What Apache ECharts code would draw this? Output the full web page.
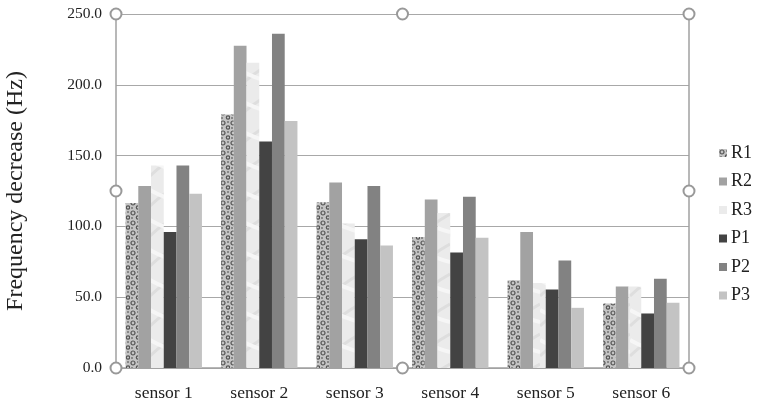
<!DOCTYPE html>
<html><head><meta charset="utf-8">
<script src="https://cdn.jsdelivr.net/npm/echarts@6/dist/echarts.min.js"></script>
<style>html,body{margin:0;padding:0;background:#fff}#c{width:759px;height:405px}</style>
</head><body><div id="c"></div>
<script>
const categories = ['sensor 1','sensor 2','sensor 3','sensor 4','sensor 5','sensor 6'];
const R1 = [116.5, 179, 117, 92.5, 62, 45.5];
const R2 = [128.5, 227.5, 131, 119, 96, 57.5];
const R3 = [143, 215.5, 102, 109.5, 60, 57.5];
const P1 = [96, 160, 91, 81.5, 55.5, 38.5];
const P2 = [143, 236, 128.5, 121, 76, 63];
const P3 = [123, 174.5, 86.5, 92, 42.5, 46];
const seriesNames = ['R1','R2','R3','P1','P2','P3'];
const yTicks = {min:0, max:250, interval:50};

function speckle(){
  const c=document.createElement('canvas'); c.width=10; c.height=10;
  const g=c.getContext('2d');
  g.fillStyle='#c4c4c4'; g.fillRect(0,0,10,10);
  g.strokeStyle='#555'; g.lineWidth=1.2;
  g.beginPath(); g.arc(3,3,2,0,Math.PI*2); g.stroke();
  g.beginPath(); g.arc(8,7.5,1.7,0,Math.PI*2); g.stroke();
  g.fillStyle='#888'; g.fillRect(7,1,2,2); g.fillRect(1,7,2,2);
  return c;
}
function marble(){
  const c=document.createElement('canvas'); c.width=30; c.height=30;
  const g=c.getContext('2d');
  g.fillStyle='#ebebeb'; g.fillRect(0,0,30,30);
  g.strokeStyle='#dedede'; g.lineWidth=3;
  g.beginPath(); g.moveTo(0,26); g.quadraticCurveTo(12,14,30,4); g.stroke();
  g.strokeStyle='#f6f6f6'; g.lineWidth=4;
  g.beginPath(); g.moveTo(0,10); g.quadraticCurveTo(14,18,30,22); g.stroke();
  return c;
}
const colors = [{image:speckle(),repeat:'repeat'}, '#a2a2a2', {image:marble(),repeat:'repeat'}, '#434343', '#828282', '#c3c3c3'];
const dataArr = [R1,R2,R3,P1,P2,P3];

const GL=116, GT=14, GR=70, GB=37;
const chart = echarts.init(document.getElementById('c'));
const font = 'Liberation Serif, Times New Roman, serif';
chart.setOption({
  animation:false,
  grid:{left:GL, top:GT, right:GR, bottom:GB, containLabel:false, outerBoundsMode:'none'},
  legend:{orient:'vertical', left:714, top:139, itemWidth:8, itemHeight:8, itemGap:10.5,
    icon:'rect', textStyle:{fontFamily:font, fontSize:18, color:'#222', padding:[0,0,0,-1]}, data:seriesNames},
  xAxis:{type:'category', data:categories,
    axisLine:{lineStyle:{color:'#a0a0a0', width:1.5}}, axisTick:{show:false},
    axisLabel:{fontFamily:font, fontSize:17.5, color:'#222', margin:16}},
  yAxis:{type:'value', min:yTicks.min, max:yTicks.max, interval:yTicks.interval,
    name:'Frequency decrease (Hz)', nameLocation:'middle', nameGap:88, nameRotate:90,
    nameTextStyle:{fontFamily:font, fontSize:24, color:'#222'},
    axisLine:{show:true, lineStyle:{color:'#a0a0a0', width:1.5}}, axisTick:{show:false},
    axisLabel:{fontFamily:font, fontSize:15.5, color:'#222', margin:14, formatter:v=>v.toFixed(1)},
    splitLine:{lineStyle:{color:'#a8a8a8', width:1.2}}},
  series: seriesNames.map((n,i)=>({name:n, type:'bar', data:dataArr[i], barGap:'0%', barCategoryGap:'20%',
    itemStyle:{color:colors[i]}}))
});
// selection frame handles (decorative)
const W=759-GL-GR, H=405-GT-GB;
const pts=[[0,0],[0.5,0],[1,0],[0,0.5],[1,0.5],[0,1],[0.5,1],[1,1]];
chart.setOption({graphic:[
  {type:'line', shape:{x1:GL+W, y1:GT, x2:GL+W, y2:GT+H}, style:{stroke:'#a0a0a0', lineWidth:1.5}},
  ...pts.map(p=>({type:'circle', shape:{cx:GL+p[0]*W, cy:GT+p[1]*H, r:5.5},
    style:{fill:'#fff', stroke:'#999', lineWidth:2}, z:100}))
]});
</script></body></html>
